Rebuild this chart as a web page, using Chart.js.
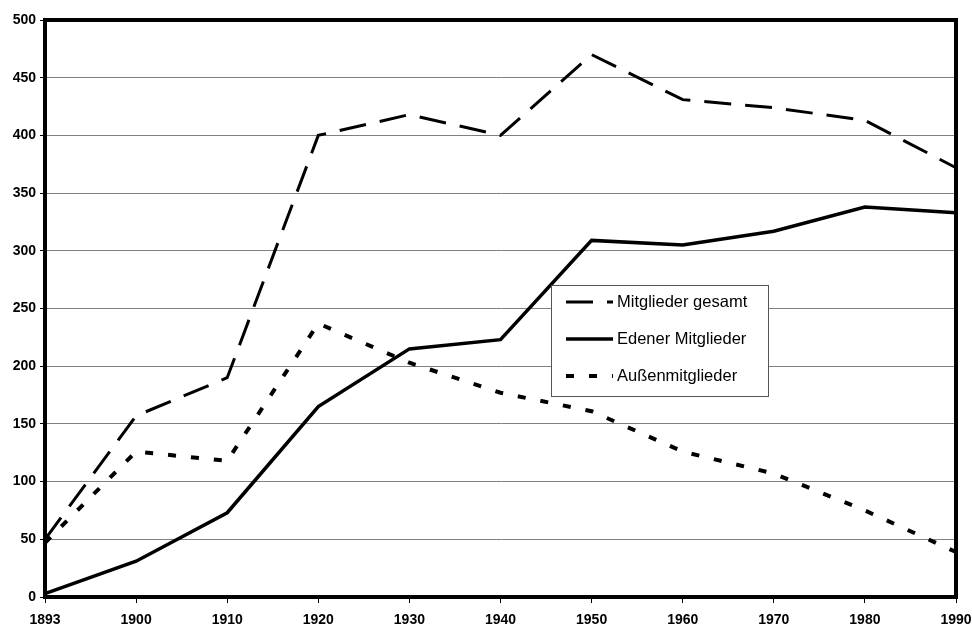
<!DOCTYPE html>
<html>
<head>
<meta charset="utf-8">
<script src="https://cdn.jsdelivr.net/npm/chart.js@4/dist/chart.umd.min.js"></script>
<style>
  html, body { margin: 0; padding: 0; background: #fff; }
  #wrap { width: 972px; height: 630px; }
</style>
</head>
<body>
<div id="wrap"><canvas id="chart" width="972" height="630"></canvas></div>
<script>
// Jahre und Mitgliederzahlen
var jahre = ['1893', '1900', '1910', '1920', '1930', '1940', '1950', '1960', '1970', '1980', '1990'];
var mitgliederGesamt = [50, 157, 190, 400, 418, 400, 470, 431, 424, 413, 372];
var edenerMitglieder = [3, 31, 73, 165, 215, 223, 309, 305, 317, 338, 333];
var aussenMitglieder = [47, 126, 118, 237, 203, 177, 161, 126, 107, 75, 39];
var serienNamen = ['Mitglieder gesamt', 'Edener Mitglieder', 'Außenmitglieder'];
var yTicks = [0, 50, 100, 150, 200, 250, 300, 350, 400, 450, 500];

var tickFont = { family: 'Liberation Sans, Arial, sans-serif', size: 14, weight: 'bold' };

// Rahmen oben/rechts und Legende im Diagramm
var rahmenUndLegende = {
    id: 'rahmenUndLegende',
    afterDraw: function(chart) {
        var ctx = chart.ctx;
        var a = chart.chartArea;
        ctx.save();
        ctx.strokeStyle = '#000';
        ctx.lineWidth = 4;
        ctx.strokeRect(a.left, a.top, a.right - a.left, a.bottom - a.top);

        // Legende
        var bx = 551, by = 285, bw = 217, bh = 111;
        ctx.fillStyle = '#fff';
        ctx.fillRect(bx, by, bw, bh);
        ctx.lineWidth = 1;
        ctx.strokeStyle = '#555';
        ctx.strokeRect(bx + 0.5, by + 0.5, bw, bh);
        ctx.font = '16.5px "Liberation Sans", Arial, sans-serif';
        ctx.textBaseline = 'middle';
        chart.data.datasets.forEach(function(ds, i) {
            var y = by + 17 + i * 37;
            ctx.strokeStyle = '#000';
            ctx.lineWidth = ds.borderWidth;
            ctx.setLineDash(ds.borderDash || []);
            ctx.beginPath();
            ctx.moveTo(bx + 15, y);
            ctx.lineTo(bx + 62, y);
            ctx.stroke();
            ctx.setLineDash([]);
            ctx.fillStyle = '#000';
            ctx.fillText(ds.label, bx + 66, y);
        });
        ctx.restore();
    }
};

new Chart(document.getElementById('chart').getContext('2d'), {
    type: 'line',
    data: {
        labels: jahre,
        datasets: [{
            label: serienNamen[0],
            data: mitgliederGesamt,
            borderColor: '#000',
            borderWidth: 3,
            borderDash: [27, 14],
            pointRadius: 0,
            tension: 0
        }, {
            label: serienNamen[1],
            data: edenerMitglieder,
            borderColor: '#000',
            borderWidth: 3.5,
            pointRadius: 0,
            tension: 0
        }, {
            label: serienNamen[2],
            data: aussenMitglieder,
            borderColor: '#000',
            borderWidth: 4,
            borderDash: [8, 15],
            pointRadius: 0,
            tension: 0
        }]
    },
    options: {
        responsive: false,
        animation: false,
        layout: { padding: { top: 20, right: 16, left: 0, bottom: 0 } },
        plugins: {
            legend: { display: false },
            tooltip: { enabled: false }
        },
        scales: {
            x: {
                offset: false,
                grid: { drawOnChartArea: false, drawTicks: true, tickLength: 6, color: '#000' },
                border: { color: '#000', width: 4 },
                ticks: { color: '#000', font: tickFont, maxRotation: 0, autoSkip: false, padding: 9 },
                afterFit: function(scale) {
                    scale.height = 33;
                    scale.paddingLeft = 0;
                    scale.paddingRight = 0;
                }
            },
            y: {
                min: 0,
                max: 500,
                afterBuildTicks: function(scale) {
                    scale.ticks = yTicks.map(function(v) { return { value: v }; });
                },
                grid: { color: '#808080', lineWidth: 1, drawTicks: true, tickLength: 5, tickColor: '#000' },
                border: { color: '#000', width: 4 },
                ticks: { color: '#000', font: tickFont, padding: 4 },
                afterFit: function(scale) { scale.width = 45; }
            }
        }
    },
    plugins: [rahmenUndLegende]
});
</script>
</body>
</html>
